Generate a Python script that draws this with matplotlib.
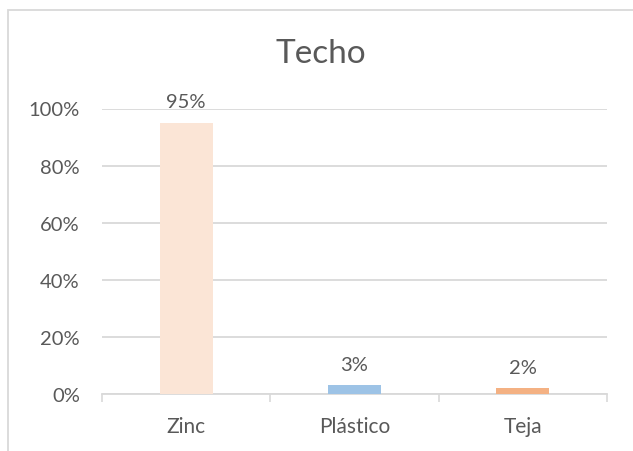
import matplotlib.pyplot as plt
from matplotlib.patches import Rectangle
from matplotlib.ticker import PercentFormatter

categories = ["Zinc", "Plástico", "Teja"]
values = [0.95, 0.03, 0.02]
labels = ["95%", "3%", "2%"]
colors = ["#FBE5D6", "#9DC3E6", "#F4B183"]

TEXT = "#595959"
GRID = "#D9D9D9"

plt.rcParams['font.family'] = ['Lato', 'DejaVu Sans']

fig = plt.figure(figsize=(6.33, 4.52), dpi=100)
ax = fig.add_axes([102 / 633, 1 - 395 / 452, 505 / 633, 285.5 / 452])

x = range(len(categories))
bars = ax.bar(x, values, width=0.315, color=colors, zorder=3)

for bar, txt in zip(bars, labels):
    ax.annotate(txt, (bar.get_x() + bar.get_width() / 2, bar.get_height()),
                xytext=(0, 9), textcoords='offset points',
                ha='center', va='bottom', fontsize=14.5, color=TEXT)

ax.set_xlim(-0.5, 2.5)
ax.set_ylim(0, 1.0)
ax.set_yticks([0, 0.2, 0.4, 0.6, 0.8, 1.0])
ax.yaxis.set_major_formatter(PercentFormatter(1.0, decimals=0))
ax.grid(axis='y', color=GRID, linewidth=1.3, zorder=0)

ax.set_xticks([-0.5, 0.5, 1.5, 2.5])
ax.set_xticklabels([])
ax.set_xticks(list(x), minor=True)
ax.set_xticklabels(categories, minor=True)
ax.tick_params(axis='x', which='major', length=6, width=1.2, color=GRID, direction='out')
ax.tick_params(axis='x', which='minor', length=0, pad=16, labelsize=15, labelcolor=TEXT)
ax.tick_params(axis='y', length=0, pad=16, labelsize=14.5, labelcolor=TEXT)

for side in ['top', 'right', 'left']:
    ax.spines[side].set_visible(False)
ax.spines['bottom'].set_color(GRID)
ax.spines['bottom'].set_linewidth(1.3)

fig.text(321 / 633, 1 - 54 / 452, "Techo", ha='center', va='center',
         fontsize=24, color=TEXT)

# chart border (cropped at right and bottom in the original)
fig.patches.append(Rectangle((8 / 633, -0.1), 1.0, 1 - 11 / 452 + 0.1,
                             transform=fig.transFigure, fill=False,
                             edgecolor=GRID, linewidth=1.3))

fig.savefig("out.png", dpi=100)
